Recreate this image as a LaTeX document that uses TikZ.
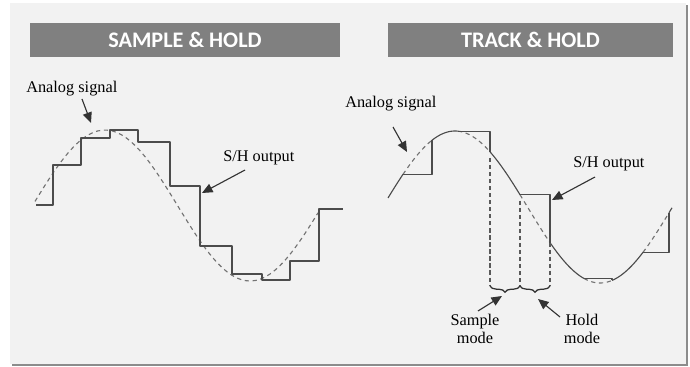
\documentclass[tikz,border=0pt]{standalone}
\usepackage{fontspec}
\setmainfont{Liberation Serif}
\newfontfamily\titlefont{Carlito}
\usetikzlibrary{arrows.meta,decorations.pathreplacing}

\begin{document}
\begin{tikzpicture}[x=0.025cm, y=-0.025cm,
  declare function={sigL(\t)=205.5-75.5*cos(1.2414*(\t-105));
                    sigR(\t)=207-76*cos(1.2414*(\t-455));},
  bar/.style={fill=black!50, text=white, inner sep=0pt, minimum height=0.85cm,
              font=\titlefont\bfseries\fontsize{15.8}{18}\selectfont},
  lbl/.style={inner sep=0pt, align=center, font=\fontsize{11.6}{12.8}\selectfont},
  sh/.style={draw=black!70, line width=0.8pt, line join=round},
  sig/.style={draw=black!55, line width=0.8pt, dash pattern=on 3pt off 2.6pt},
  mk/.style={draw=black!65, line width=0.75pt, dash pattern=on 3pt off 2pt},
  brc/.style={draw=black!80, line width=0.9pt,
              decorate, decoration={brace, amplitude=4.5pt, mirror}},
  pt/.style={draw=black!80, line width=0.8pt, -{Triangle[length=7.5pt, width=6.5pt]}}]
\useasboundingbox (0,0) rectangle (690,367);

% panel with its shadow
\fill[black!45] (12,5) rectangle (688,366);
\fill[black!5] (10,3) rectangle (686,364);

% headings
\node[bar, minimum width=7.75cm] (tsh) at (185,40) {SAMPLE \& HOLD};
\node[bar, minimum width=7.125cm] (tth) at (530.5,40) {TRACK \& HOLD};

% (a) sample and hold: the signal and its staircase
\draw[sig, domain=35:318, samples=60] plot (\x,{sigL(\x)});
\draw[sh] (36,205) -| (53,165) -| (81,138) -| (110,130) -| (138,142) -| (170,186)
  -| (200,246) -| (232,274) -| (262,280) -| (290,261) -| (319,209) -- (343,209);

\node[lbl, anchor=base west] (lsig) at (26,93) {Analog signal};
\node[lbl, anchor=base west] (lout) at (223,162) {S/H output};
\coordinate (lsig-s) at (82,99);  \coordinate (lsig-e) at (91,123);
\coordinate (lout-s) at (245,170); \coordinate (lout-e) at (202,193);
\draw[pt] (lsig-s) -- (lsig-e);
\draw[pt] (lout-s) -- (lout-e);

% (b) track and hold: follow the signal, then hold the last value
\draw[sh, domain=388:403, samples=10] plot (\x,{sigR(\x)});
\foreach \s/\h/\n in {403/432/458, 458/490/520, 520/550/584, 584/612/643, 643/669/672}{%
  \draw[sig, domain=\s:\h, samples=15] plot (\x,{sigR(\x)});
  \draw[sh] (\s,{sigR(\s)}) -- (\h,{sigR(\s)}) -- (\h,{sigR(\h)});
  \draw[sh, domain=\h:\n, samples=15] plot (\x,{sigR(\x)});}

% modes marked under one period
\draw[mk] (490,158) -- (490,286);
\draw[mk] (520,{sigR(520)+6}) -- (520,286);
\draw[mk] (550,{sigR(550)}) -- (550,286);
\draw[brc] (490,286) -- (520,286);
\draw[brc] (520,286) -- (550,286);

\node[lbl, anchor=base west] (rsig) at (345,108) {Analog signal};
\node[lbl, anchor=base west] (rout) at (573,167) {S/H output};
\node[lbl, anchor=north] (smode) at (475,314) {Sample\\mode};
\node[lbl, anchor=north] (hmode) at (582,314) {Hold\\mode};
\coordinate (rsig-s) at (393,127); \coordinate (rsig-e) at (407,152);
\coordinate (rout-s) at (595,177); \coordinate (rout-e) at (552,200);
\coordinate (smode-s) at (478,311); \coordinate (smode-e) at (502,296);
\coordinate (hmode-s) at (560,317); \coordinate (hmode-e) at (538,299);
\draw[pt] (rsig-s) -- (rsig-e);
\draw[pt] (rout-s) -- (rout-e);
\draw[pt] (smode-s) -- (smode-e);
\draw[pt] (hmode-s) -- (hmode-e);
\end{tikzpicture}
\end{document}
